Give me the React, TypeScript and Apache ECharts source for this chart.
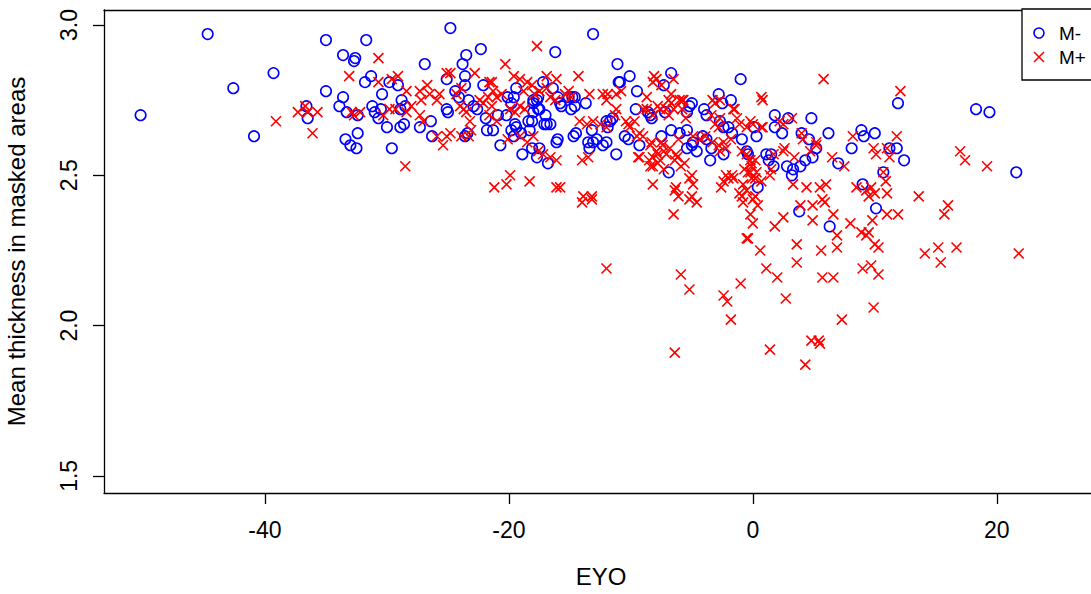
import React, { useEffect, useRef } from "react";
import * as echarts from "echarts";

const xTicks = [-40, -20, 0, 20];
const yTicks = [1.5, 2.0, 2.5, 3.0];
const seriesNames = ["M-", "M+"];

const mMinus: number[][] = [
  [-50.2, 2.70], [-44.7, 2.97], [-42.6, 2.79], [-40.9, 2.63], [-39.3, 2.84], [-35.0, 2.95], [-33.6, 2.90],
  [-35.0, 2.78], [-33.6, 2.76], [-33.9, 2.73], [-33.3, 2.71], [-36.6, 2.73], [-36.5, 2.69], [-33.4, 2.62],
  [-33.0, 2.60], [-32.5, 2.59], [-32.4, 2.64], [-32.6, 2.89], [-32.7, 2.88], [-31.7, 2.95], [-32.4, 2.70],
  [-31.3, 2.83], [-31.8, 2.81], [-29.8, 2.81], [-29.1, 2.80], [-30.4, 2.77], [-31.2, 2.73], [-31.0, 2.71],
  [-30.5, 2.72], [-30.7, 2.69], [-30.0, 2.66], [-28.8, 2.75], [-28.5, 2.73], [-28.9, 2.72], [-28.9, 2.66],
  [-28.6, 2.67], [-27.3, 2.66], [-26.4, 2.68], [-29.6, 2.59], [-26.9, 2.87], [-24.8, 2.99], [-23.5, 2.90],
  [-23.8, 2.87], [-22.3, 2.92], [-23.6, 2.83], [-25.1, 2.82], [-25.1, 2.72], [-25.0, 2.71], [-24.4, 2.78],
  [-24.1, 2.76], [-23.6, 2.80], [-23.3, 2.75], [-22.9, 2.73], [-22.6, 2.72], [-22.1, 2.80], [-21.9, 2.69],
  [-21.3, 2.65], [-21.8, 2.65], [-26.3, 2.63], [-23.6, 2.63], [-23.4, 2.64], [-20.7, 2.60], [-20.1, 2.76],
  [-19.6, 2.76], [-19.4, 2.79], [-19.8, 2.65], [-19.6, 2.63], [-19.4, 2.66], [-19.0, 2.64], [-18.9, 2.57],
  [-18.3, 2.65], [-18.1, 2.68], [-18.0, 2.75], [-17.6, 2.76], [-17.2, 2.81], [-16.4, 2.79], [-16.2, 2.91],
  [-18.1, 2.59], [-17.5, 2.59], [-17.7, 2.56], [-17.1, 2.67], [-16.9, 2.67], [-16.6, 2.67], [-17.0, 2.70],
  [-18.0, 2.71], [-17.5, 2.72], [-16.0, 2.62], [-16.1, 2.61], [-16.8, 2.54], [-20.9, 2.70], [-19.5, 2.67],
  [-18.4, 2.68], [-16.0, 2.76], [-15.8, 2.74], [-15.7, 2.73], [-14.9, 2.72], [-14.6, 2.73], [-14.8, 2.76],
  [-14.6, 2.76], [-13.7, 2.74], [-13.2, 2.65], [-12.8, 2.62], [-12.3, 2.60], [-12.0, 2.68], [-13.5, 2.61],
  [-14.7, 2.63], [-14.5, 2.64], [-13.1, 2.97], [-11.1, 2.87], [-11.0, 2.81], [-10.1, 2.83], [-6.7, 2.84],
  [-7.3, 2.80], [-1.0, 2.82], [-9.5, 2.78], [-2.8, 2.77], [-2.5, 2.74], [-1.8, 2.75], [-5.0, 2.74],
  [-5.2, 2.73], [-5.4, 2.71], [-4.0, 2.72], [-3.8, 2.70], [-7.2, 2.71], [-8.4, 2.70], [-9.6, 2.72],
  [-2.7, 2.68], [-2.0, 2.66], [-1.7, 2.64], [-2.4, 2.66], [-6.7, 2.65], [-11.7, 2.68], [-11.5, 2.69],
  [-11.9, 2.66], [-13.1, 2.61], [-13.4, 2.59], [-12.0, 2.61], [-10.5, 2.63], [-10.2, 2.62], [-11.2, 2.57],
  [-9.3, 2.60], [-7.5, 2.63], [-5.4, 2.59], [-5.0, 2.60], [-4.6, 2.58], [-4.9, 2.61], [-3.5, 2.55],
  [-2.4, 2.57], [-0.5, 2.58], [-0.4, 2.57], [-0.9, 2.62], [0.3, 2.63], [0.1, 2.66], [1.1, 2.57],
  [-6.9, 2.51], [0.4, 2.46], [-15.1, 2.76], [11.9, 2.74], [18.3, 2.72], [19.4, 2.71], [21.6, 2.51],
  [1.8, 2.70], [2.9, 2.69], [4.8, 2.69], [1.8, 2.66], [2.4, 2.64], [4.0, 2.64], [4.6, 2.62], [5.2, 2.59],
  [4.9, 2.56], [6.2, 2.64], [8.9, 2.65], [9.1, 2.63], [10.0, 2.64], [8.1, 2.59], [7.0, 2.54], [11.2, 2.59],
  [11.8, 2.59], [12.4, 2.55], [10.7, 2.51], [9.0, 2.47], [10.1, 2.39], [3.8, 2.38], [6.3, 2.33],
  [1.5, 2.57], [1.3, 2.55], [1.7, 2.53], [2.8, 2.53], [3.3, 2.52], [3.2, 2.50], [3.9, 2.53], [4.3, 2.55],
  [-8.6, 2.71], [-8.3, 2.69], [-10.9, 2.81], [-3.8, 2.62], [-4.1, 2.63], [-6.0, 2.64], [-5.4, 2.65],
  [-3.4, 2.59], [-19.8, 2.74], [-20.2, 2.70], [-17.7, 2.75], [-17.6, 2.72], [-18.0, 2.74]
];

const mPlus: number[][] = [
  [-33.1, 2.83], [-39.1, 2.68], [-37.3, 2.71], [-36.7, 2.73], [-36.5, 2.71], [-35.7, 2.71], [-36.1, 2.64],
  [-32.7, 2.70], [-30.7, 2.89], [-17.7, 2.93], [-20.3, 2.87], [-29.1, 2.83], [-29.6, 2.82], [-30.7, 2.81],
  [-28.4, 2.78], [-27.3, 2.78], [-26.7, 2.80], [-26.5, 2.77], [-25.9, 2.75], [-25.7, 2.77], [-27.2, 2.75],
  [-25.1, 2.84], [-24.8, 2.84], [-22.8, 2.84], [-21.4, 2.81], [-21.6, 2.81], [-21.3, 2.78], [-29.3, 2.72],
  [-28.4, 2.71], [-28.0, 2.73], [-32.9, 2.71], [-32.2, 2.71], [-30.3, 2.70], [-29.8, 2.72], [-27.3, 2.70],
  [-27.0, 2.68], [-25.9, 2.63], [-25.4, 2.60], [-25.1, 2.63], [-24.8, 2.64], [-23.9, 2.63], [-23.3, 2.63],
  [-23.1, 2.65], [-24.0, 2.73], [-23.7, 2.72], [-23.5, 2.71], [-23.2, 2.68], [-24.3, 2.77], [-23.9, 2.79],
  [-22.4, 2.75], [-22.1, 2.74], [-21.7, 2.76], [-21.4, 2.73], [-21.0, 2.76], [-20.6, 2.77], [-21.6, 2.70],
  [-21.0, 2.68], [-19.9, 2.72], [-19.5, 2.71], [-19.1, 2.73], [-18.7, 2.72], [-19.6, 2.83], [-19.1, 2.82],
  [-18.5, 2.81], [-18.8, 2.78], [-18.1, 2.80], [-17.9, 2.77], [-17.5, 2.78], [-16.9, 2.79], [-16.6, 2.76],
  [-16.2, 2.75], [-19.1, 2.63], [-18.5, 2.61], [-18.0, 2.63], [-20.1, 2.62], [-17.6, 2.58], [-17.2, 2.57],
  [-16.6, 2.56], [-16.1, 2.55], [-28.5, 2.53], [-19.9, 2.50], [-20.2, 2.47], [-21.2, 2.46], [-18.3, 2.48],
  [-16.1, 2.46], [-16.9, 2.83], [-16.1, 2.82], [-14.3, 2.83], [-15.1, 2.78], [-15.4, 2.77], [-14.9, 2.76],
  [-13.4, 2.77], [-12.3, 2.77], [-12.0, 2.75], [-14.2, 2.68], [-13.6, 2.67], [-13.1, 2.68], [-12.5, 2.67],
  [-12.0, 2.66], [-13.5, 2.56], [-15.8, 2.46], [-13.9, 2.43], [-13.2, 2.43], [-11.2, 2.77], [-10.8, 2.78],
  [-11.2, 2.72], [-11.3, 2.70], [-10.4, 2.68], [-8.7, 2.76], [-7.9, 2.82], [-7.5, 2.80], [-8.7, 2.72],
  [-8.2, 2.70], [-7.6, 2.72], [-6.9, 2.75], [-6.7, 2.77], [-5.8, 2.75], [-5.7, 2.75], [-6.5, 2.72],
  [-6.9, 2.70], [-5.8, 2.72], [-5.5, 2.69], [-3.3, 2.75], [-3.4, 2.70], [-2.7, 2.69], [-1.5, 2.72],
  [-1.3, 2.69], [-0.2, 2.68], [0.8, 2.66], [0.7, 2.76], [-9.7, 2.68], [-10.1, 2.66], [-9.3, 2.64],
  [-8.4, 2.60], [-7.9, 2.58], [-7.4, 2.60], [-6.8, 2.59], [-7.1, 2.57], [-8.2, 2.56], [-7.6, 2.55],
  [-8.4, 2.53], [-9.4, 2.56], [-6.1, 2.62], [-6.3, 2.57], [-4.9, 2.63], [-4.3, 2.62], [-3.9, 2.63],
  [-3.3, 2.61], [-2.8, 2.60], [-2.4, 2.61], [-1.8, 2.62], [-2.7, 2.58], [-2.2, 2.59], [-0.9, 2.58],
  [-0.5, 2.57], [-0.2, 2.55], [0.2, 2.55], [-0.2, 2.51], [-0.1, 2.49], [0.7, 2.48], [-2.2, 2.50],
  [-1.7, 2.50], [-2.6, 2.46], [-5.0, 2.50], [-4.9, 2.47], [-4.6, 2.41], [-5.2, 2.42], [-6.4, 2.45],
  [-6.1, 2.43], [-6.5, 2.37], [-8.2, 2.47], [-14.0, 2.55], [-14.0, 2.41], [-13.2, 2.42], [-0.9, 2.43],
  [-0.8, 2.41], [-0.2, 2.37], [0.4, 2.40], [5.8, 2.82], [0.8, 2.75], [12.1, 2.78], [2.2, 2.68],
  [3.2, 2.69], [0.7, 2.66], [4.1, 2.62], [5.2, 2.60], [2.6, 2.59], [3.4, 2.56], [8.2, 2.63], [9.9, 2.59],
  [10.1, 2.57], [11.0, 2.59], [11.2, 2.56], [11.8, 2.63], [6.5, 2.56], [7.5, 2.53], [17.0, 2.58],
  [17.4, 2.55], [19.2, 2.53], [10.7, 2.51], [10.9, 2.48], [11.0, 2.44], [8.5, 2.46], [9.7, 2.46],
  [10.0, 2.44], [9.5, 2.43], [13.6, 2.43], [3.3, 2.47], [4.4, 2.46], [5.5, 2.46], [6.0, 2.47], [3.9, 2.40],
  [4.9, 2.40], [5.9, 2.41], [6.6, 2.37], [8.0, 2.34], [8.9, 2.31], [9.5, 2.31], [16.0, 2.40], [15.7, 2.37],
  [11.0, 2.37], [11.9, 2.37], [2.5, 2.36], [1.8, 2.33], [4.9, 2.35], [6.9, 2.30], [6.9, 2.26], [10.0, 2.27],
  [14.1, 2.24], [15.2, 2.26], [16.7, 2.26], [21.8, 2.24], [3.6, 2.27], [0.6, 2.25], [5.6, 2.25],
  [-12.0, 2.19], [-5.9, 2.17], [-5.2, 2.12], [-2.4, 2.10], [-2.1, 2.08], [-1.8, 2.02], [-1.0, 2.14],
  [-6.4, 1.91], [1.4, 1.92], [2.7, 2.09], [4.3, 1.87], [4.8, 1.95], [5.4, 1.95], [5.5, 1.94], [7.3, 2.02],
  [9.9, 2.06], [1.1, 2.19], [2.0, 2.16], [3.6, 2.21], [-0.4, 2.29], [5.7, 2.16], [6.6, 2.16], [9.0, 2.19],
  [9.7, 2.20], [10.3, 2.17], [15.4, 2.21], [10.3, 2.26], [9.3, 2.30], [9.8, 2.35], [-8.1, 2.83],
  [-8.2, 2.81], [-6.5, 2.82], [-6.0, 2.75], [-11.9, 2.77], [-9.0, 2.72], [-7.8, 2.73], [-7.1, 2.72],
  [-6.7, 2.74], [-10.2, 2.67], [-9.5, 2.63], [-9.0, 2.63], [-8.3, 2.61], [-7.5, 2.61], [-7.3, 2.58],
  [-9.3, 2.56], [-8.5, 2.55], [-8.2, 2.53], [-7.8, 2.54], [-7.3, 2.52], [-7.8, 2.57], [-6.4, 2.55],
  [-6.2, 2.56], [-5.6, 2.54], [-5.9, 2.53], [-6.3, 2.46], [-5.2, 2.49], [-5.0, 2.43], [-2.4, 2.48],
  [-2.0, 2.49], [-1.6, 2.49], [-3.1, 2.74], [-2.7, 2.75], [-1.6, 2.72], [-3.1, 2.67], [-2.8, 2.66],
  [-1.1, 2.67], [-0.5, 2.66], [0.0, 2.67], [-0.1, 2.54], [-0.7, 2.52], [0.3, 2.51], [-1.1, 2.44],
  [-0.5, 2.45], [0.0, 2.42], [2.5, 2.67], [4.0, 2.64], [5.2, 2.61], [4.7, 2.58], [-0.1, 2.53],
  [-0.4, 2.51], [0.2, 2.49], [-0.8, 2.47], [2.5, 2.58], [1.7, 2.57], [1.5, 2.52], [1.4, 2.50], [9.3, 2.45],
  [0.2, 2.43], [5.7, 2.42], [0.0, 2.34], [-0.5, 2.29]
];

export default function App() {
  const ref = useRef<HTMLDivElement>(null);
  useEffect(() => {
    const chart = echarts.init(ref.current as HTMLDivElement, null, { renderer: "svg" });
    const font = "'Liberation Sans', Arial, Helvetica, sans-serif";
    const frame = { show: true, onZero: false, lineStyle: { color: "#000", width: 1.3 } };
    chart.setOption({
      animation: false,
      backgroundColor: "#ffffff",
      textStyle: { fontFamily: font },
      grid: {
        left: 104, top: 10, right: -7, bottom: 101,
        outerBoundsMode: "none", containLabel: false, show: false,
      },
      xAxis: [
        {
          type: "value", min: -53.2, max: 28.3, position: "bottom",
          splitLine: { show: false },
          axisLine: frame,
          axisTick: { show: true, customValues: xTicks, length: 11, lineStyle: { color: "#000", width: 1.3 } },
          axisLabel: { customValues: xTicks, color: "#000", fontSize: 23, margin: 25, fontFamily: font },
          name: "EYO", nameLocation: "middle", nameGap: 71,
          nameTextStyle: { fontSize: 24, color: "#000", fontFamily: font },
        },
        {
          type: "value", min: -53.2, max: 28.3, position: "top",
          splitLine: { show: false }, axisLine: frame,
          axisTick: { show: false }, axisLabel: { show: false },
        },
      ],
      yAxis: {
        type: "value", min: 1.443, max: 3.05,
        splitLine: { show: false },
        axisLine: frame,
        axisTick: { show: true, customValues: yTicks, length: 11, lineStyle: { color: "#000", width: 1.3 } },
        axisLabel: {
          customValues: yTicks, color: "#000", fontSize: 23, margin: 24, rotate: 90, fontFamily: font,
          formatter: (v: number) => v.toFixed(1),
        },
        name: "Mean thickness in masked areas", nameLocation: "middle", nameGap: 76, nameRotate: 90,
        nameTextStyle: { fontSize: 24, color: "#000", fontFamily: font },
      },
      series: [
        {
          name: seriesNames[0], type: "scatter", data: mMinus, symbol: "circle", symbolSize: 10.5,
          itemStyle: { color: "rgba(0,0,0,0)", borderColor: "#0000ff", borderWidth: 1.6, opacity: 1 },
        },
        {
          name: seriesNames[1], type: "scatter", data: mPlus, symbol: "path://M0,0L10,10M10,0L0,10", symbolSize: 10,
          itemStyle: { color: "none", borderColor: "#ff0000", borderWidth: 1.6, opacity: 1 },
        },
      ],
      graphic: [
        { type: "rect", shape: { x: 1022, y: 9, width: 100, height: 71 }, style: { fill: "#fff", stroke: "#000", lineWidth: 1.3 }, z: 10 },
        { type: "circle", shape: { cx: 1039, cy: 33, r: 5 }, style: { fill: "none", stroke: "#0000ff", lineWidth: 1.6 }, z: 11 },
        { type: "line", shape: { x1: 1034, y1: 52, x2: 1044, y2: 62 }, style: { stroke: "#ff0000", lineWidth: 1.6 }, z: 11 },
        { type: "line", shape: { x1: 1044, y1: 52, x2: 1034, y2: 62 }, style: { stroke: "#ff0000", lineWidth: 1.6 }, z: 11 },
        { type: "text", x: 1059, y: 33, style: { text: seriesNames[0], fill: "#000", font: `19px ${font}`, verticalAlign: "middle" }, z: 11 },
        { type: "text", x: 1059, y: 57, style: { text: seriesNames[1], fill: "#000", font: `19px ${font}`, verticalAlign: "middle" }, z: 11 },
      ],
    });
    return () => chart.dispose();
  }, []);
  return (
    <div
      ref={ref}
      style={{ position: "fixed", left: 0, top: 0, width: 1091, height: 594, background: "#fff" }}
    />
  );
}
